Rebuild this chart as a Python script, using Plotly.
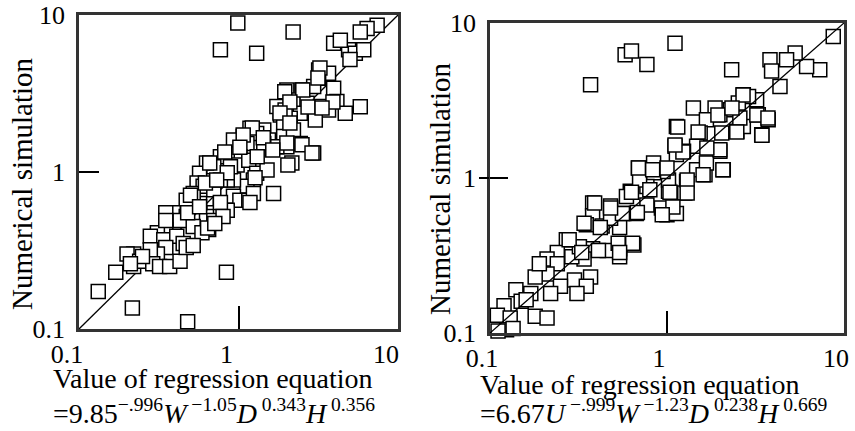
import plotly.graph_objects as go

# ---------------- data ----------------
# Left panel: value of regression equation (x) vs numerical simulation (y)
left_x = [0.99, 2.2, 0.77, 1.30, 5.8, 2.96, 1.66, 0.84, 0.132, 0.216, 0.48, 0.17, 0.22,
          7.4, 6.4, 5.8, 4.9, 3.95, 5.4, 6.1, 3.26, 3.18, 3.67, 3.95, 3.18, 2.96, 2.50, 2.01,
          2.21, 2.69, 3.26, 4.14, 3.67, 4.67, 2.44, 2.11, 3.03, 1.83, 1.92, 1.44, 1.18, 1.30,
          1.07, 1.54, 1.92, 2.21, 2.44, 2.01, 2.16, 1.74, 1.44, 1.13, 1.02, 0.85, 0.77, 0.98,
          1.16, 1.30, 1.51, 1.24, 1.13, 0.93, 0.85, 0.70, 0.63, 0.57, 0.55, 0.60, 0.70, 0.77,
          0.93, 1.02, 1.16, 0.85, 0.70, 0.63, 0.57, 0.52, 0.47, 0.39, 0.35, 0.47, 0.43, 0.52,
          0.65, 0.59, 0.70, 0.35, 0.31, 0.28, 0.34, 0.41, 0.45, 0.35, 0.31, 0.28, 0.22, 0.20,
          0.24, 0.29, 0.32, 0.37, 0.43, 0.47, 0.25, 0.21,
          4.35, 5.0, 1.74, 1.96, 0.93, 0.89, 0.77, 1.24, 0.35,
          3.24, 3.15, 1.95, 2.53, 3.91, 2.10, 1.82, 2.73, 3.34, 2.10, 1.22, 1.07, 1.43, 2.01,
          2.50, 2.89, 1.64, 1.31, 2.04, 0.82, 1.02, 0.66, 0.85, 1.27, 0.62, 0.73, 1.18, 0.77,
          0.50, 0.48, 0.64, 0.52, 0.80, 0.57, 0.71]
left_y = [8.9, 7.8, 6.0, 5.7, 2.6, 1.32, 0.73, 0.23, 0.173, 0.136, 0.111, 0.23, 0.25,
          8.6, 8.2, 7.8, 6.0, 6.6, 5.7, 6.0, 4.05, 4.47, 4.25, 3.41, 3.95, 3.50, 3.33, 3.33,
          2.88, 2.74, 2.61, 2.81, 2.48, 2.37, 2.37, 2.20, 2.14, 2.31, 1.99, 1.85, 1.90, 1.76,
          1.68, 1.60, 1.68, 1.85, 1.52, 1.45, 1.14, 1.45, 1.52, 1.52, 1.25, 1.32, 1.25, 1.11,
          1.19, 0.98, 1.03, 0.89, 0.81, 0.89, 0.89, 1.08, 1.14, 0.98, 0.85, 0.81, 0.77, 0.63,
          0.70, 0.66, 0.66, 0.57, 0.55, 0.52, 0.63, 0.73, 0.66, 0.55, 0.55, 0.52, 0.49, 0.45,
          0.43, 0.41, 0.49, 0.43, 0.41, 0.39, 0.37, 0.39, 0.35, 0.33, 0.30, 0.32, 0.30, 0.30,
          0.27, 0.26, 0.25, 0.25, 0.27, 0.33, 0.29, 0.26,
          6.9, 5.2, 2.61, 2.48, 1.60, 1.08, 0.89, 0.73, 0.49,
          4.6, 3.97, 3.24, 3.33, 2.79, 2.79, 2.38, 2.59, 2.56, 2.05, 1.91, 1.72, 1.65, 1.53,
          1.49, 1.32, 1.38, 1.25, 1.11, 1.34, 1.44, 1.14, 0.99, 0.92, 0.85, 0.89, 0.64, 0.64,
          0.71, 0.55, 0.44, 0.34, 0.52, 0.60, 0.47]

# Right panel
right_x = [0.37, 0.58, 0.63, 0.77, 1.11, 2.32, 8.7, 7.3, 6.15, 5.3, 4.74, 3.82, 3.90, 4.35,
           3.43, 1.13,
           2.70, 3.21, 3.28, 3.73, 2.28, 1.99, 1.87, 1.41, 1.67, 2.48, 2.70, 2.04, 1.54, 1.47,
           1.24, 1.11, 1.13, 1.99, 2.08, 1.64, 1.47, 1.67, 1.29, 1.26, 1.02, 1.02, 0.95, 0.84,
           0.69, 0.84, 0.62, 0.77, 1.00, 0.93, 1.13, 0.77, 0.67, 0.57, 0.48, 0.38, 0.38, 0.35,
           0.43, 0.54, 0.65, 0.54, 0.54, 0.46, 0.38, 0.34, 0.27, 0.24, 0.21, 0.24, 0.21, 0.18,
           0.30, 0.37, 0.35, 0.31, 0.25, 0.22, 0.17, 0.14, 0.15, 0.12, 0.11, 0.13, 0.18, 0.21,
           0.124, 0.111, 0.135, 0.16, 0.19, 0.29,
           2.58, 2.89, 2.53, 0.70, 0.59, 0.48, 0.32,
           2.69, 1.94, 2.33, 3.22, 3.72, 3.44, 2.48, 1.50, 1.15, 1.23, 1.99, 1.68, 1.11, 2.07,
           1.60, 1.30, 1.00, 0.69, 0.83, 0.63, 0.80, 1.04, 1.30, 1.08, 0.94, 0.68, 0.56, 0.39,
           0.48, 0.34, 0.42, 0.53, 0.64, 0.54, 0.28, 0.33, 0.41]
right_y = [4.0, 6.25, 6.6, 5.4, 7.4, 5.0, 8.2, 5.0, 5.25, 6.4, 5.8, 5.8, 4.9, 3.90,
           1.90, 2.15,
           3.45, 3.20, 2.56, 2.38, 2.76, 2.56, 2.83, 2.83, 2.38, 2.00, 2.15, 1.95, 1.95, 1.60,
           1.49, 1.60, 1.42, 1.49, 1.13, 1.05, 1.13, 1.25, 0.95, 0.80, 0.82, 0.97, 1.10, 1.25,
           1.16, 1.08, 0.82, 0.88, 0.58, 0.64, 0.59, 0.67, 0.59, 0.59, 0.66, 0.69, 0.57, 0.50,
           0.49, 0.48, 0.37, 0.35, 0.31, 0.34, 0.35, 0.30, 0.40, 0.33, 0.30, 0.28, 0.24, 0.23,
           0.22, 0.23, 0.20, 0.18, 0.20, 0.18, 0.18, 0.19, 0.16, 0.15, 0.13, 0.125, 0.128, 0.125,
           0.105, 0.103, 0.107, 0.164, 0.28, 0.31,
           2.44, 3.36, 3.05, 0.97, 0.76, 0.55, 0.36,
           3.43, 2.55, 2.83, 2.55, 2.44, 1.89, 1.98, 1.98, 2.13, 1.47, 1.52, 1.56, 1.63, 1.13,
           1.05, 0.97, 1.16, 1.16, 1.13, 0.81, 0.84, 0.81, 0.80, 0.65, 0.58, 0.60, 0.59, 0.69,
           0.64, 0.51, 0.48, 0.38, 0.38, 0.33, 0.40, 0.33, 0.34]

diag = [0.1, 10]
tick_vals = [0.1, 1, 10]
tick_text = ["0.1", "1", "10"]

FONT = "Liberation Serif, Times New Roman, serif"

marker = dict(symbol="square", size=14, color="white",
              line=dict(color="black", width=1.5))

fig = go.Figure()
fig.add_trace(go.Scatter(x=diag, y=diag, mode="lines", line=dict(color="black", width=1.3),
                         xaxis="x", yaxis="y", showlegend=False, hoverinfo="skip"))
fig.add_trace(go.Scatter(x=left_x, y=left_y, mode="markers", marker=marker,
                         xaxis="x", yaxis="y", showlegend=False, cliponaxis=False))
fig.add_trace(go.Scatter(x=diag, y=diag, mode="lines", line=dict(color="black", width=1.3),
                         xaxis="x2", yaxis="y3", showlegend=False, hoverinfo="skip"))
fig.add_trace(go.Scatter(x=right_x, y=right_y, mode="markers", marker=marker,
                         xaxis="x2", yaxis="y2", showlegend=False, cliponaxis=False))

common = dict(type="log", range=[-1.0001, 1.0001], showgrid=False, zeroline=False,
              showline=True, mirror=True, linecolor="#333", linewidth=2.5,
              ticks="inside", tickwidth=1.5, tickcolor="black", automargin=False,
              tickvals=tick_vals, ticktext=tick_text,
              tickfont=dict(family=FONT, size=26, color="black"))

fig.update_layout(
    width=855, height=431, margin=dict(l=0, r=0, t=0, b=0, pad=0, autoexpand=False),
    paper_bgcolor="white", plot_bgcolor="white",
    xaxis=dict(common, domain=[0.0924, 0.4655], anchor="y", ticklen=23, ticklabelshift=-12),
    yaxis=dict(common, domain=[0.2367, 0.9652], anchor="x", ticklen=20, ticklabelstandoff=6),
    xaxis2=dict(common, domain=[0.5731, 0.9871], anchor="y2", ticklen=22, ticklabelshift=-8),
    yaxis2=dict(common, domain=[0.2274, 0.9466], anchor="x2", ticklen=18, ticklabelstandoff=6),
    yaxis3=dict(type="log", range=[-1.0001, 1.0001], overlaying="y2", anchor="x2", side="left",
                showgrid=False, zeroline=False, showline=False, ticks="outside", ticklen=10,
                automargin=False,
                tickwidth=1.5, tickcolor="black", tickvals=[1], showticklabels=False),
)

title_font = dict(family=FONT, size=28, color="black")
ann = [
    dict(text="Numerical simulation", x=0.0257, y=0.5754, textangle=-90,
         xanchor="center", yanchor="middle", font=dict(family=FONT, size=29, color="black")),
    dict(text="Numerical simulation", x=0.5146, y=0.5638, textangle=-90,
         xanchor="center", yanchor="middle", font=dict(family=FONT, size=29, color="black")),
    dict(text="Value of regression equation", x=0.0596, y=0.121,
         xanchor="left", yanchor="middle", font=title_font),
    dict(text="=9.85<sup>−.996</sup><i>W</i><sup> −1.05</sup><i>D</i><sup> 0.343</sup><i>H</i><sup> 0.356</sup>",
         x=0.0596, y=0.0, xanchor="left", yanchor="bottom", font=title_font),
    dict(text="Value of regression equation", x=0.559, y=0.107,
         xanchor="left", yanchor="middle", font=title_font),
    dict(text="=6.67<i>U</i><sup> −.999</sup><i>W</i><sup> −1.23</sup><i>D</i><sup> 0.238</sup><i>H</i><sup> 0.669</sup>",
         x=0.559, y=0.0, xanchor="left", yanchor="bottom", font=title_font),
]
for a in ann:
    fig.add_annotation(xref="paper", yref="paper", showarrow=False, **a)

fig.write_html("out.html", config={"displayModeBar": False},
               post_script="document.body.style.margin='0';document.body.style.overflow='hidden';")
